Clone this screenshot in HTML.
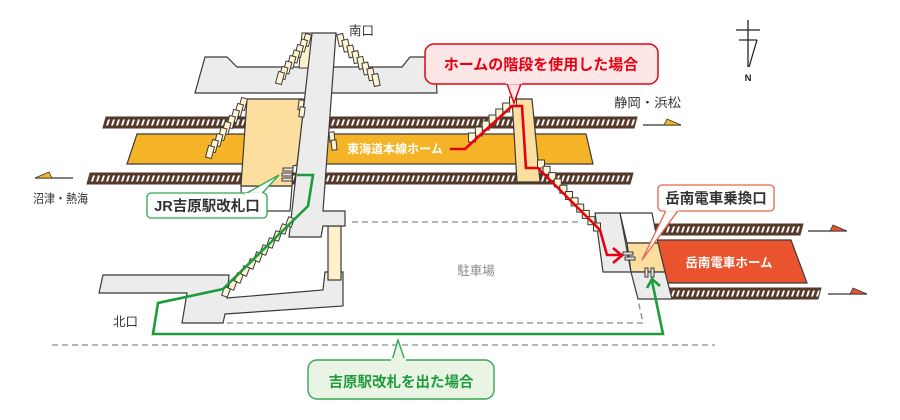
<!DOCTYPE html>
<html><head><meta charset="utf-8">
<style>
html,body{margin:0;padding:0;background:#fff;}
svg{display:block;}
text{font-family:"Liberation Sans","Noto Sans CJK JP",sans-serif;}
</style></head>
<body>
<svg width="900" height="420" viewBox="0 0 900 420" xmlns="http://www.w3.org/2000/svg">
<defs>
<pattern id="tie" width="5" height="11" patternUnits="userSpaceOnUse">
<rect width="5" height="11" fill="#55392b"/>
<polygon points="3,2.5 5,2.5 3,8.5 1,8.5" fill="#fff"/>
</pattern>
</defs>
<rect width="900" height="420" fill="#fff"/>

<!-- dashed lines -->
<g stroke="#8a8a8a" stroke-width="1.3" stroke-dasharray="6,4" fill="none">
<line x1="352" y1="222" x2="578" y2="222"/>
<polyline points="227,323 643,323 638,300"/>
<line x1="52" y1="345" x2="715" y2="345"/>
</g>

<!-- tracks -->
<g transform="translate(0,117)"><polygon points="106,0 637,0 634,11 103,11" fill="url(#tie)" stroke="#55392b" stroke-width="1"/></g>
<g transform="translate(0,173)"><polygon points="90,0 633,0 630,11 87,11" fill="url(#tie)" stroke="#55392b" stroke-width="1"/></g>
<g transform="translate(0,224)"><polygon points="655,0 803,0 800,11 652,11" fill="url(#tie)" stroke="#55392b" stroke-width="1"/></g>
<g transform="translate(0,288)"><polygon points="669,0 821,0 818,11 666,11" fill="url(#tie)" stroke="#55392b" stroke-width="1"/></g>

<!-- platforms -->
<polygon points="137,134 586,134 593,164 127,164" fill="#f5b427" stroke="#3a3a3a" stroke-width="1.2"/>
<polygon points="657,240 791,240 807,283 667,283" fill="#e9542f" stroke="#3a3a3a" stroke-width="1.2"/>
<text x="395" y="153" font-size="12" font-weight="bold" fill="#fff" text-anchor="middle">東海道本線ホーム</text>
<text x="729" y="267" font-size="12.5" font-weight="bold" fill="#fff" text-anchor="middle">岳南電車ホーム</text>

<!-- direction arrows -->
<g stroke="#333" stroke-width="1.2">
<line x1="643" y1="125" x2="681" y2="125"/>
<line x1="35" y1="178" x2="73" y2="178"/>
<line x1="808" y1="231" x2="847" y2="231"/>
<line x1="828" y1="294" x2="867" y2="294"/>
</g>
<polygon points="664,125 667,119 681,125" fill="#f5b427" stroke="#333" stroke-width="0.8"/>
<polygon points="52,178 49,172 35,178" fill="#f5b427" stroke="#333" stroke-width="0.8"/>
<polygon points="830,231 833,225 847,231" fill="#e9542f" stroke="#333" stroke-width="0.8"/>
<polygon points="850,294 853,288 867,294" fill="#e9542f" stroke="#333" stroke-width="0.8"/>
<text x="614" y="107" font-size="12.5" fill="#333" textLength="67" lengthAdjust="spacingAndGlyphs">静岡・浜松</text>
<text x="33" y="203" font-size="12.5" fill="#333" textLength="55" lengthAdjust="spacingAndGlyphs">沼津・熱海</text>

<!-- south building -->
<polygon points="205,57 227,57 237,67 402,67 410,57 435,57 437,93 195,93" fill="#ececec" stroke="#3a3a3a" stroke-width="1.2"/>

<!-- north building -->
<polygon points="103,275 229,275 227,298 323,290 325,272 343,272 343,306 225,314 223,323 182,323 187,293 99,293" fill="#ececec" stroke="#3a3a3a" stroke-width="1.2"/>
<rect x="328" y="226" width="13" height="54" fill="#fdf1cc" stroke="#3a3a3a" stroke-width="1.2"/>

<!-- JR concourse -->
<polygon points="241,186 292,186 290,211 242,211" fill="#fff" stroke="#3a3a3a" stroke-width="1.2"/>
<polygon points="247,99 305,99 297,165 293,166 292,186 241,186" fill="#fcdf9f" stroke="#3a3a3a" stroke-width="1.2"/>

<!-- bridge -->
<polygon points="312,33 336,33 323,211 345,211 345,226 323,226 321,237 289,237" fill="#ececec" stroke="#3a3a3a" stroke-width="1.2"/>
<polygon points="302,33 312,33 308,68 299,68" fill="#fdf1cc" stroke="#3a3a3a" stroke-width="1"/>

<!-- red stair box -->
<polygon points="512,99 532,99 540,182 517,182" fill="#fcdf9f" stroke="#3a3a3a" stroke-width="1.2"/>

<!-- gakunan transfer blocks -->
<polygon points="595,213 620,213 631,272 603,272" fill="#ececec" stroke="#3a3a3a" stroke-width="1.2"/>
<polygon points="620,213 652,213 658,243 627,243" fill="#fff" stroke="#3a3a3a" stroke-width="1.2"/>
<polygon points="627,243 658,243 665,272 631,272" fill="#fcdf9f" stroke="#3a3a3a" stroke-width="1.2"/>
<polygon points="631,272 665,272 672,299 638,299" fill="#ececec" stroke="#3a3a3a" stroke-width="1.2"/>

<!-- stairs -->
<g fill="#fff5d2" stroke="#3a3a3a" stroke-width="1">
<!-- south-left -->
<g transform="translate(307,40) rotate(15)"><rect x="-3" y="-6" width="6" height="12"/></g>
<g transform="translate(303,45.5) rotate(15)"><rect x="-3" y="-6" width="6" height="12"/></g>
<g transform="translate(299,51) rotate(15)"><rect x="-3" y="-6" width="6" height="12"/></g>
<g transform="translate(295.5,56.5) rotate(15)"><rect x="-3" y="-6" width="6" height="12"/></g>
<g transform="translate(291.5,62) rotate(15)"><rect x="-3" y="-6" width="6" height="12"/></g>
<g transform="translate(287.5,67.5) rotate(15)"><rect x="-3" y="-6" width="6" height="12"/></g>
<g transform="translate(283.5,73) rotate(15)"><rect x="-3" y="-6" width="6" height="12"/></g>
<g transform="translate(280,78) rotate(15)"><rect x="-3" y="-6" width="6" height="12"/></g>
<!-- south-right -->
<g transform="translate(341,40) rotate(-12)"><rect x="-3" y="-6" width="6" height="12"/></g>
<g transform="translate(346,45.7) rotate(-12)"><rect x="-3" y="-6" width="6" height="12"/></g>
<g transform="translate(351,51.4) rotate(-12)"><rect x="-3" y="-6" width="6" height="12"/></g>
<g transform="translate(356,57.1) rotate(-12)"><rect x="-3" y="-6" width="6" height="12"/></g>
<g transform="translate(361,62.9) rotate(-12)"><rect x="-3" y="-6" width="6" height="12"/></g>
<g transform="translate(366,68.6) rotate(-12)"><rect x="-3" y="-6" width="6" height="12"/></g>
<g transform="translate(371,74.3) rotate(-12)"><rect x="-3" y="-6" width="6" height="12"/></g>
<g transform="translate(376,80) rotate(-12)"><rect x="-3" y="-6" width="6" height="12"/></g>
<!-- concourse-left -->
<g transform="translate(243,104) rotate(15)"><rect x="-3" y="-6" width="6" height="12"/></g>
<g transform="translate(239,110) rotate(15)"><rect x="-3" y="-6" width="6" height="12"/></g>
<g transform="translate(235,116) rotate(15)"><rect x="-3" y="-6" width="6" height="12"/></g>
<g transform="translate(231,122) rotate(15)"><rect x="-3" y="-6" width="6" height="12"/></g>
<g transform="translate(226.5,128) rotate(15)"><rect x="-3" y="-6" width="6" height="12"/></g>
<g transform="translate(222.5,134) rotate(15)"><rect x="-3" y="-6" width="6" height="12"/></g>
<g transform="translate(218.5,140) rotate(15)"><rect x="-3" y="-6" width="6" height="12"/></g>
<g transform="translate(214,146) rotate(15)"><rect x="-3" y="-6" width="6" height="12"/></g>
<g transform="translate(210,152) rotate(15)"><rect x="-3" y="-6" width="6" height="12"/></g>
<!-- small -->
<g transform="translate(301,105) rotate(8)"><rect x="-2.5" y="-5" width="5" height="10"/></g>
<g transform="translate(302,112) rotate(8)"><rect x="-2.5" y="-5" width="5" height="10"/></g>
<g transform="translate(332,137) rotate(-6)"><rect x="-2.5" y="-5" width="5" height="10"/></g>
<g transform="translate(334,145) rotate(-6)"><rect x="-2.5" y="-5" width="5" height="10"/></g>
<!-- north -->
<g transform="translate(290,222) rotate(20)"><rect x="-3" y="-4.5" width="6" height="9"/></g>
<g transform="translate(283.6,229) rotate(20)"><rect x="-3" y="-4.5" width="6" height="9"/></g>
<g transform="translate(277.2,236) rotate(20)"><rect x="-3" y="-4.5" width="6" height="9"/></g>
<g transform="translate(270.8,243) rotate(20)"><rect x="-3" y="-4.5" width="6" height="9"/></g>
<g transform="translate(264.4,250) rotate(20)"><rect x="-3" y="-4.5" width="6" height="9"/></g>
<g transform="translate(258,257) rotate(20)"><rect x="-3" y="-4.5" width="6" height="9"/></g>
<g transform="translate(251.6,264) rotate(20)"><rect x="-3" y="-4.5" width="6" height="9"/></g>
<g transform="translate(245.2,271) rotate(20)"><rect x="-3" y="-4.5" width="6" height="9"/></g>
<g transform="translate(238.8,278) rotate(20)"><rect x="-3" y="-4.5" width="6" height="9"/></g>
<g transform="translate(232.4,285) rotate(20)"><rect x="-3" y="-4.5" width="6" height="9"/></g>
<g transform="translate(226,292) rotate(20)"><rect x="-3" y="-4.5" width="6" height="9"/></g>
<!-- red upper-left -->
<rect x="509.5" y="97" width="7" height="9"/>
<rect x="502.7" y="103" width="7" height="9"/>
<rect x="495.8" y="109" width="7" height="9"/>
<rect x="489" y="115" width="7" height="9"/>
<rect x="482.2" y="121" width="7" height="9"/>
<rect x="475.3" y="127" width="7" height="9"/>
<rect x="468.5" y="133" width="7" height="9"/>
<!-- red lower-right -->
<rect x="537.5" y="160" width="7" height="8"/>
<rect x="543.1" y="166.3" width="7" height="8"/>
<rect x="548.7" y="172.6" width="7" height="8"/>
<rect x="554.3" y="178.9" width="7" height="8"/>
<rect x="559.9" y="185.2" width="7" height="8"/>
<rect x="565.5" y="191.5" width="7" height="8"/>
<rect x="571.1" y="197.8" width="7" height="8"/>
<rect x="576.7" y="204.1" width="7" height="8"/>
<rect x="582.3" y="210.4" width="7" height="8"/>
<rect x="587.9" y="216.7" width="7" height="8"/>
<rect x="593.5" y="223" width="7" height="8"/>
</g>

<!-- gates -->
<g fill="#e6e6e6" stroke="#3a3a3a" stroke-width="1">
<rect x="283" y="168" width="10" height="3"/>
<rect x="282" y="173" width="10" height="3"/>
<rect x="282" y="178" width="10" height="3"/>
<rect x="623" y="252" width="10" height="3"/>
<rect x="625" y="257" width="10" height="3"/>
<rect x="645" y="268" width="3" height="9"/>
<rect x="651" y="268" width="3" height="9"/>
</g>

<!-- red path -->
<polyline points="450,149 465,149 512,106 522,106 526,168 538,168 600,230 607,255 621,255" fill="none" stroke="#e60012" stroke-width="2.6" stroke-linejoin="miter"/>
<polyline points="613,248 622,255.5 613,263" fill="none" stroke="#e60012" stroke-width="2.6"/>

<!-- green path -->
<polyline points="297,175 313,175 308,206 223,289 158,303 153,334 663,334 652,281" fill="none" stroke="#1e9b3c" stroke-width="2.6" stroke-linejoin="miter"/>
<polyline points="647,288 652,279 660,286" fill="none" stroke="#1e9b3c" stroke-width="2.6"/>

<!-- callouts -->
<rect x="425" y="44" width="233" height="40" rx="9" fill="#fce6e6" stroke="#e60012" stroke-width="1.5"/>
<polygon points="507,83.5 514,103 521,83.5" fill="#fce6e6" stroke="#e60012" stroke-width="1.5" stroke-linejoin="miter"/>
<rect x="506" y="81" width="16" height="3" fill="#fce6e6"/>
<text x="541" y="69.5" font-size="15" font-weight="bold" fill="#e60012" text-anchor="middle">ホームの階段を使用した場合</text>

<rect x="658" y="185" width="116" height="26" rx="4" fill="#fff" stroke="#e8644a" stroke-width="1.3"/>
<polygon points="666,210.5 642,260 678,210.5" fill="#fff" stroke="#e8644a" stroke-width="1.3"/>
<rect x="665" y="208" width="14" height="3" fill="#fff"/>
<text x="716" y="203.5" font-size="14.5" font-weight="bold" fill="#333" text-anchor="middle">岳南電車乗換口</text>

<rect x="147" y="193" width="120" height="25" rx="4" fill="#fff" stroke="#2ea84a" stroke-width="1.3"/>
<polygon points="246,193.5 279,175 262,193.5" fill="#fff" stroke="#2ea84a" stroke-width="1.3"/>
<rect x="245" y="193" width="18" height="3" fill="#fff"/>
<text x="207" y="211" font-size="14.5" font-weight="bold" fill="#333" text-anchor="middle">JR吉原駅改札口</text>

<rect x="308" y="360" width="186" height="39" rx="9" fill="#eaf4e4" stroke="#3aa655" stroke-width="1.4"/>
<polygon points="392,360.5 398,340 405,360.5" fill="#eaf4e4" stroke="#3aa655" stroke-width="1.4"/>
<rect x="391" y="358" width="15" height="3.5" fill="#eaf4e4"/>
<text x="401" y="387" font-size="14.5" font-weight="bold" fill="#1f9a3c" text-anchor="middle">吉原駅改札を出た場合</text>

<!-- labels -->
<text x="349" y="35" font-size="12.5" fill="#333">南口</text>
<text x="113" y="326" font-size="12.5" fill="#333">北口</text>
<text x="476" y="275" font-size="12.5" fill="#888" text-anchor="middle">駐車場</text>

<!-- north arrow -->
<g stroke="#222" stroke-width="1.3" fill="none">
<line x1="748" y1="20" x2="748" y2="67"/>
<line x1="736" y1="30" x2="760" y2="30"/>
<line x1="739" y1="40" x2="757" y2="40"/>
<line x1="757" y1="40" x2="749" y2="67"/>
</g>
<text x="748" y="81" font-size="9.5" font-weight="bold" fill="#222" text-anchor="middle">N</text>
</svg>
</body></html>
